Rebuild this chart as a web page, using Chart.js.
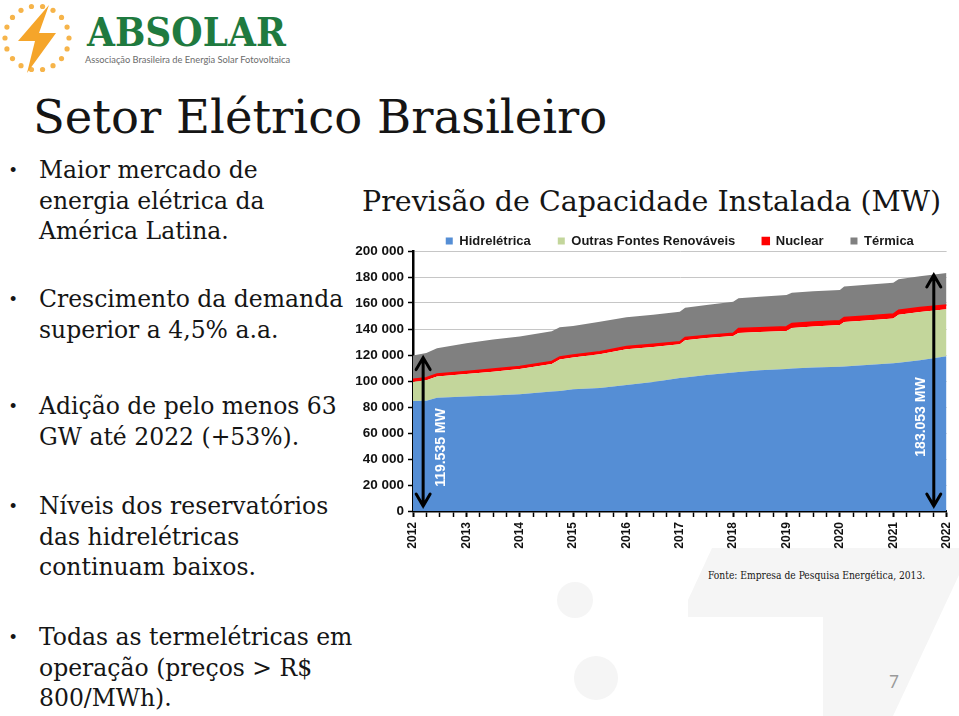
<!DOCTYPE html>
<html>
<head>
<meta charset="utf-8">
<script src="https://cdn.jsdelivr.net/npm/chart.js@4.4.1/dist/chart.umd.min.js"></script>
<style>
  html, body { margin: 0; padding: 0; background: #fff; }
  #slide { position: relative; width: 959px; height: 716px; overflow: hidden; background: #fff; }
  .serif { font-family: "DejaVu Serif", serif; color: #151515; position: absolute; white-space: nowrap; }
  #title { left: 33px; top: 88px; font-size: 46.5px; line-height: 58px; }
  .bullet { font-size: 23.5px; line-height: 30.5px; left: 39px; }
  .bullet::before { content: "\2022"; position: absolute; left: -29px; font-family: "Liberation Sans", Arial, sans-serif; font-size: 18px; }
  #ctitle { left: 362px; top: 184px; font-size: 28.5px; line-height: 36px; }
  #fonte { left: 708px; top: 568px; font-size: 10.2px; line-height: 16px; font-family: "DejaVu Serif Condensed", "DejaVu Serif", serif; }
  #page { position: absolute; left: 889px; top: 671px; font-family: Lato, sans-serif; font-size: 17px; color: #9a9a9a; }
  #logoText { position: absolute; left: 87px; top: 8px; font-family: "DejaVu Serif Condensed", "DejaVu Serif", serif; font-weight: bold; font-size: 40px; color: #1f7a3f; }
  #logoSub { position: absolute; left: 85px; top: 54px; font-family: Lato, sans-serif; font-size: 9.3px; color: #6b6b6b; white-space: nowrap; }
  #chartBox { position: absolute; left: 340px; top: 201px; width: 626px; height: 350px; }
</style>
</head>
<body>
<div id="slide">
  <svg width="959" height="716" style="position:absolute;left:0;top:0">
    <polygon points="712,548 959,548 959,575 893,716 823,716 823,617 688,617 688,600" fill="#f5f5f5"/>
    <circle cx="575" cy="600" r="18" fill="#f5f5f5"/>
    <circle cx="596" cy="678" r="22" fill="#f5f5f5"/>
    <g fill="#f6b44a" id="dots"></g>
    <polygon points="49,5 18,41 35,41 27,73 56,33 39,33" fill="#f5a52a"/>
  </svg>
  <div id="logoText">ABSOLAR</div>
  <div id="logoSub">Associação Brasileira de Energia Solar Fotovoltaica</div>

  <div id="title" class="serif">Setor Elétrico Brasileiro</div>
  <div class="serif bullet" style="top:155px">Maior mercado de<br>energia elétrica da<br>América Latina.</div>
  <div class="serif bullet" style="top:284px">Crescimento da demanda<br>superior a 4,5% a.a.</div>
  <div class="serif bullet" style="top:391px">Adição de pelo menos 63<br>GW até 2022 (+53%).</div>
  <div class="serif bullet" style="top:491px">Níveis dos reservatórios<br>das hidrelétricas<br>continuam baixos.</div>
  <div class="serif bullet" style="top:622px">Todas as termelétricas em<br>operação (preços &gt; R$<br>800/MWh).</div>

  <div id="ctitle" class="serif">Previsão de Capacidade Instalada (MW)</div>
  <div id="chartBox"><canvas id="cap"></canvas></div>
  <div id="fonte" class="serif">Fonte: Empresa de Pesquisa Energética, 2013.</div>
  <div id="page">7</div>
</div>

<script>
// logo dots ring
var dotsG = document.getElementById("dots");
for (var k = 0; k < 18; k++) {
    var a = k / 18 * Math.PI * 2;
    var c = document.createElementNS("http://www.w3.org/2000/svg", "circle");
    c.setAttribute("cx", 37 + 32 * Math.cos(a));
    c.setAttribute("cy", 38 + 32 * Math.sin(a));
    c.setAttribute("r", 2.6);
    dotsG.appendChild(c);
}

// capacidade instalada (MW)
var years = [2012, 2012.25, 2012.45, 2013, 2013.5, 2014, 2014.6, 2014.75, 2015, 2015.5,
    2016, 2016.5, 2017, 2017.1, 2017.5, 2018, 2018.1, 2018.5, 2019, 2019.1,
    2019.5, 2020, 2020.08, 2020.5, 2021, 2021.1, 2021.5, 2022];
var hidreletrica = [84600, 84800, 87200, 88000, 88800, 89800, 91900, 92400, 93600, 94600,
    97000, 99300, 102300, 102600, 104600, 106500, 107000, 108300, 109300, 109600,
    110300, 111000, 111200, 112300, 113600, 114000, 116000, 119000];
var outrasRenovaveis = [14710, 15710, 16210, 17310, 18410, 19410, 21110, 24110, 24410, 25910,
    27510, 26910, 25910, 28810, 28410, 28210, 29905, 29305, 29105, 31205,
    31605, 32005, 34205, 34305, 34505, 37005, 37105, 36105];
var nuclear = [1990, 1990, 1990, 1990, 1990, 1990, 1990, 1990, 1990, 1990,
    1990, 1990, 1990, 1990, 1990, 1990, 3395, 3395, 3395, 3395,
    3395, 3395, 3395, 3395, 3395, 3395, 3395, 3395];
var termica = [18235, 19000, 19700, 21700, 22800, 23100, 23200, 22800, 22300, 23100,
    22500, 22800, 23100, 23000, 23500, 24300, 23300, 23800, 24400, 23700,
    23700, 23600, 23800, 24000, 24100, 23800, 24000, 24553];
var yTicks = [0, 20000, 40000, 60000, 80000, 100000, 120000, 140000, 160000, 180000, 200000];

// total arrows drawn on the plot
var setaAno = [2012.19, 2021.76];
var setaTotal = [119535, 183053];
var setaTexto = ["119.535 MW", "183.053 MW"];
var setaTextoY = [48800, 72300];

function pts(arr) {
    return years.map(function (x, i) { return { x: x, y: arr[i] }; });
}
function milhar(v) {
    return String(v).replace(/\B(?=(\d{3})+(?!\d))/g, " ");
}

var setas = {
    id: "setas",
    afterLayout: function (chart) {
        // legend sits closer to the plot, centred over it
        var l = chart.legend, a = chart.chartArea;
        l.left = a.left; l.right = a.right; l.width = a.right - a.left;
        l.top += 6.5; l.bottom += 6.5;
    },
    afterDatasetsDraw: function (chart) {
        var ctx = chart.ctx, xs = chart.scales.x, ys = chart.scales.y;
        ctx.save();
        setaAno.forEach(function (ano, i) {
            var x = xs.getPixelForValue(ano);
            var y1 = ys.getPixelForValue(setaTotal[i]) + 2;
            var y2 = ys.getPixelForValue(0) - 5;
            ctx.strokeStyle = "#000";
            ctx.lineWidth = 3;
            ctx.lineCap = "round";
            ctx.beginPath();
            ctx.moveTo(x, y1); ctx.lineTo(x, y2);
            ctx.moveTo(x - 7, y1 + 12); ctx.lineTo(x, y1); ctx.lineTo(x + 7, y1 + 12);
            ctx.moveTo(x - 7, y2 - 12); ctx.lineTo(x, y2); ctx.lineTo(x + 7, y2 - 12);
            ctx.stroke();
            var tx = x + (i === 0 ? 18 : -13);
            var ty = ys.getPixelForValue(setaTextoY[i]);
            ctx.translate(tx, ty);
            ctx.rotate(-Math.PI / 2);
            ctx.fillStyle = "#fff";
            ctx.font = "bold 14px 'Liberation Sans', Arial, sans-serif";
            ctx.textAlign = "center";
            ctx.textBaseline = "middle";
            ctx.fillText(setaTexto[i], 0, 0);
            ctx.setTransform(1, 0, 0, 1, 0, 0);
        });
        ctx.restore();
    }
};

var fonteEixo = { family: "'Liberation Sans', Arial, sans-serif", weight: "bold" };

var capChart = new Chart(
    document.getElementById("cap"),
    {
        "type": "line",
        "data": {
            "datasets": [
                { "label": "Hidrelétrica", "data": pts(hidreletrica), "backgroundColor": "#558ed5",
                  "borderWidth": 0, "fill": "origin" },
                { "label": "Outras Fontes Renováveis", "data": pts(outrasRenovaveis), "backgroundColor": "#c3d69b",
                  "borderWidth": 0, "fill": "-1" },
                { "label": "Nuclear", "data": pts(nuclear), "backgroundColor": "#ff0000",
                  "borderColor": "#ff0000", "borderWidth": 1.5, "fill": "-1" },
                { "label": "Térmica", "data": pts(termica), "backgroundColor": "#808080",
                  "borderWidth": 0, "fill": "-1" }
            ]
        },
        "options": {
            "responsive": true,
            "maintainAspectRatio": false,
            "animation": false,
            "layout": { "padding": { "left": 0, "right": 0, "top": 0, "bottom": 0 } },
            "elements": { "point": { "radius": 0 }, "line": { "tension": 0 } },
            "plugins": {
                "legend": {
                    "position": "top",
                    "labels": {
                        "boxWidth": 7, "boxHeight": 7, "padding": 27, "color": "#1a1a1a",
                        "font": { "family": "'Liberation Sans', Arial, sans-serif", "size": 13, "weight": "bold" }
                    }
                },
                "tooltip": { "enabled": false }
            },
            "scales": {
                "x": {
                    "type": "linear", "min": 2012, "max": 2022,
                    "afterFit": function (s) { s.height = 40; },
                    "afterBuildTicks": function (s) {
                        s.ticks = [];
                        for (var q = 0; q <= 40; q++) s.ticks.push({ value: 2012 + q * 0.25 });
                    },
                    "border": { "color": "#000", "width": 2.5 },
                    "grid": {
                        "drawOnChartArea": false, "drawTicks": true, "tickLength": 6, "tickColor": "#000",
                        "tickWidth": function (c) { return Number.isInteger(c.tick.value) ? 2 : 1.5; }
                    },
                    "ticks": {
                        "autoSkip": false, "minRotation": 90, "maxRotation": 90, "padding": 5, "color": "#111",
                        "font": { "family": fonteEixo.family, "weight": "bold", "size": 12 },
                        "callback": function (v) { return Number.isInteger(v) ? String(v) : ""; }
                    }
                },
                "y": {
                    "stacked": true, "min": 0, "max": 200000,
                    "afterFit": function (s) { s.width = 73; },
                    "afterBuildTicks": function (s) {
                        s.ticks = yTicks.map(function (v) { return { value: v }; });
                    },
                    "border": { "color": "#000", "width": 2.5 },
                    "grid": {
                        "color": "#c6c6c6", "lineWidth": 1, "tickLength": 5, "tickColor": "#000", "tickWidth": 1.5
                    },
                    "ticks": {
                        "padding": 4, "color": "#111",
                        "font": { "family": fonteEixo.family, "weight": "bold", "size": 13.5 },
                        "callback": function (v) { return milhar(v); }
                    }
                }
            }
        },
        "plugins": [setas]
    });
</script>
</body>
</html>
